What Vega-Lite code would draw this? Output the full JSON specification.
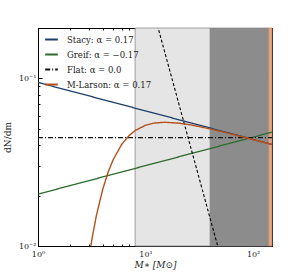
{
  "$schema": "https://vega.github.io/schema/vega-lite/v6.json",
  "width": 234,
  "height": 218,
  "autosize": "none",
  "padding": {"left": 38, "top": 28, "right": 31, "bottom": 28},
  "background": "white",
  "config": {
    "view": {"stroke": "black", "strokeWidth": 1},
    "font": "DejaVu Serif",
    "axis": {"grid": false, "domainColor": "black", "tickColor": "black", "labelFont": "DejaVu Serif", "titleFont": "DejaVu Serif", "labelFontSize": 8, "titleFontSize": 9, "labelColor": "#222", "titleColor": "#222", "titleFontWeight": "normal"}
  },
  "datasets": {
    "bands": [
      {"band": "light", "m0": 8, "m1": 40},
      {"band": "dark", "m0": 40, "m1": 140},
      {"band": "salmon", "m0": 140, "m1": 150}
    ],
    "lines": [
      {"series": "Stacy: α = 0.17", "m": 1, "v": 0.0947},
      {"series": "Stacy: α = 0.17", "m": 150, "v": 0.0404},
      {"series": "Greif: α = −0.17", "m": 1, "v": 0.0204},
      {"series": "Greif: α = −0.17", "m": 150, "v": 0.0478},
      {"series": "Flat: α = 0.0", "m": 1, "v": 0.0443},
      {"series": "Flat: α = 0.0", "m": 150, "v": 0.0443}
    ],
    "larson": [
      {"series": "M-Larson: α = 0.17", "m": 3.0, "v": 0.00879},
      {"series": "M-Larson: α = 0.17", "m": 3.2, "v": 0.01133},
      {"series": "M-Larson: α = 0.17", "m": 3.5, "v": 0.01531},
      {"series": "M-Larson: α = 0.17", "m": 4.0, "v": 0.02182},
      {"series": "M-Larson: α = 0.17", "m": 4.5, "v": 0.02770},
      {"series": "M-Larson: α = 0.17", "m": 5, "v": 0.03274},
      {"series": "M-Larson: α = 0.17", "m": 6, "v": 0.04038},
      {"series": "M-Larson: α = 0.17", "m": 7, "v": 0.04550},
      {"series": "M-Larson: α = 0.17", "m": 8, "v": 0.04888},
      {"series": "M-Larson: α = 0.17", "m": 10, "v": 0.05257},
      {"series": "M-Larson: α = 0.17", "m": 12, "v": 0.05413},
      {"series": "M-Larson: α = 0.17", "m": 15, "v": 0.05475},
      {"series": "M-Larson: α = 0.17", "m": 20, "v": 0.05417},
      {"series": "M-Larson: α = 0.17", "m": 25, "v": 0.05309},
      {"series": "M-Larson: α = 0.17", "m": 30, "v": 0.05197},
      {"series": "M-Larson: α = 0.17", "m": 40, "v": 0.04996},
      {"series": "M-Larson: α = 0.17", "m": 50, "v": 0.04832},
      {"series": "M-Larson: α = 0.17", "m": 70, "v": 0.04581},
      {"series": "M-Larson: α = 0.17", "m": 100, "v": 0.04320},
      {"series": "M-Larson: α = 0.17", "m": 150, "v": 0.04037}
    ],
    "salpeter": [
      {"m": 10, "v": 0.377},
      {"m": 60, "v": 0.0056}
    ]
  },
  "resolve": {"axis": {"x": "independent", "y": "independent"}},
  "layer": [
    {
      "data": {"name": "bands"},
      "mark": {"type": "rect", "strokeWidth": 0.8},
      "encoding": {
        "x": {"field": "m0", "type": "quantitative", "scale": {"type": "log", "domain": [1, 150], "nice": false},
              "axis": {"orient": "bottom", "values": [2,3,4,5,6,7,8,9,20,30,40,50,60,70,80,90], "labels": false, "tickSize": -2, "title": null, "domain": false}},
        "x2": {"field": "m1"},
        "y": {"value": 0},
        "y2": {"value": 218},
        "fill": {"field": "band", "type": "nominal", "scale": {"domain": ["light", "dark", "salmon"], "range": ["#e5e5e5", "#8c8c8c", "#e3a884"]}, "legend": null},
        "stroke": {"field": "band", "type": "nominal", "scale": {"domain": ["light", "dark", "salmon"], "range": ["#8a8a8a", "#8a8a8a", "#c98a66"]}, "legend": null}
      }
    },
    {
      "data": {"name": "lines"},
      "mark": {"type": "line", "strokeWidth": 1.3, "clip": true},
      "encoding": {
        "x": {"field": "m", "type": "quantitative", "scale": {"type": "log", "domain": [1, 150], "nice": false},
              "axis": {"orient": "bottom", "values": [1, 10, 100], "tickSize": -4, "labelExpr": "datum.value == 1 ? '10⁰' : datum.value == 10 ? '10¹' : '10²'", "labelPadding": 8, "title": "M∗ [M⊙]", "titleFontStyle": "italic", "titlePadding": 2, "labelFlush": false}},
        "y": {"field": "v", "type": "quantitative", "scale": {"type": "log", "domain": [0.01, 0.2], "nice": false},
              "axis": {"orient": "left", "values": [0.01, 0.1], "tickSize": -4, "labelExpr": "datum.value < 0.05 ? '10⁻²' : '10⁻¹'", "labelPadding": 6, "title": "dN/dm", "titlePadding": 6, "labelFlush": false}},
        "color": {"field": "series", "type": "nominal",
                  "scale": {"domain": ["Stacy: α = 0.17", "Greif: α = −0.17", "Flat: α = 0.0", "M-Larson: α = 0.17"], "range": ["#1c3e6a", "#2b6b2b", "#111111", "#b5501a"]},
                  "legend": {"orient": "none", "legendX": 6, "legendY": 4, "title": null, "symbolType": "stroke", "symbolSize": 160, "symbolStrokeWidth": 2, "labelFont": "DejaVu Serif", "labelFontSize": 8.5, "labelColor": "#222", "rowPadding": 3, "labelOffset": 8}},
        "strokeDash": {"field": "series", "type": "nominal",
                  "scale": {"domain": ["Stacy: α = 0.17", "Greif: α = −0.17", "Flat: α = 0.0", "M-Larson: α = 0.17"], "range": [[1, 0], [1, 0], [5, 2, 1, 2], [1, 0]]},
                  "legend": {"orient": "none", "legendX": 6, "legendY": 4, "title": null, "symbolType": "stroke", "symbolSize": 160, "symbolStrokeWidth": 2, "labelFont": "DejaVu Serif", "labelFontSize": 8.5, "labelColor": "#222", "rowPadding": 3, "labelOffset": 8}}
      }
    },
    {
      "data": {"name": "salpeter"},
      "mark": {"type": "line", "strokeWidth": 1.1, "color": "black", "strokeDash": [3, 2], "clip": true},
      "encoding": {
        "x": {"field": "m", "type": "quantitative", "scale": {"type": "log", "domain": [1, 150], "nice": false},
              "axis": {"orient": "top", "values": [2,3,4,5,6,7,8,9,20,30,40,50,60,70,80,90], "labels": false, "tickSize": -2, "title": null}},
        "y": {"field": "v", "type": "quantitative", "scale": {"type": "log", "domain": [0.01, 0.2], "nice": false},
              "axis": {"orient": "right", "values": [0.02,0.03,0.04,0.05,0.06,0.07,0.08,0.09,0.2], "labels": false, "tickSize": -2, "title": null}}
      }
    },
    {
      "data": {"name": "larson"},
      "mark": {"type": "line", "strokeWidth": 1.4, "clip": true},
      "encoding": {
        "x": {"field": "m", "type": "quantitative", "scale": {"type": "log", "domain": [1, 150], "nice": false},
              "axis": {"orient": "top", "values": [1, 10, 100], "labels": false, "tickSize": -4, "title": null}},
        "y": {"field": "v", "type": "quantitative", "scale": {"type": "log", "domain": [0.01, 0.2], "nice": false},
              "axis": {"orient": "right", "values": [0.01, 0.1], "labels": false, "tickSize": -4, "title": null}},
        "color": {"field": "series", "type": "nominal"},
        "strokeDash": {"field": "series", "type": "nominal"}
      }
    },
    {
      "data": {"name": "lines"},
      "mark": {"type": "point", "opacity": 0},
      "encoding": {
        "x": {"field": "m", "type": "quantitative", "scale": {"type": "log", "domain": [1, 150], "nice": false}, "axis": null},
        "y": {"field": "v", "type": "quantitative", "scale": {"type": "log", "domain": [0.01, 0.2], "nice": false},
              "axis": {"orient": "left", "values": [0.02,0.03,0.04,0.05,0.06,0.07,0.08,0.09,0.2], "labels": false, "tickSize": -2, "title": null}}
      }
    }
  ]
}
